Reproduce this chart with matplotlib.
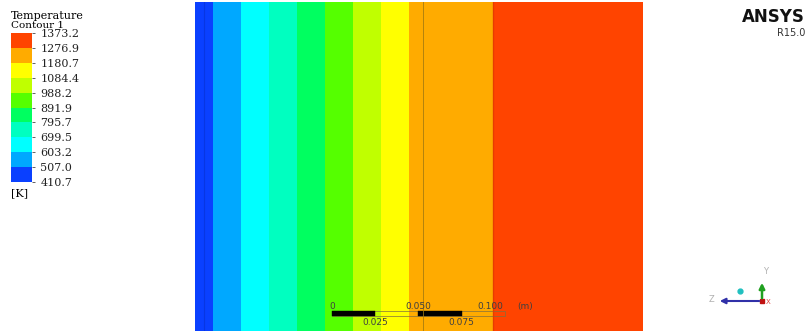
import numpy as np
import matplotlib
matplotlib.use("Agg")
import matplotlib.pyplot as plt
from matplotlib.colors import ListedColormap, BoundaryNorm

# contour levels shown in the legend [K]
levels = [410.7, 507.0, 603.2, 699.5, 795.7, 891.9, 988.2, 1084.4, 1180.7, 1276.9, 1373.2]
band_colors = ["#0a40ff", "#00a8ff", "#00ffff", "#00ffc0", "#00ff60",
               "#55ff00", "#c0ff00", "#ffff00", "#ffab00", "#ff4400"]

# temperature bands across the wall (x in m)
x_edges = [0.0, 0.0104, 0.0266, 0.0428, 0.0590, 0.0751, 0.0913, 0.1075, 0.1237, 0.1723, 0.2590]
band_temp = [458.9, 555.1, 651.4, 747.6, 843.8, 940.1, 1036.3, 1132.6, 1228.8, 1325.1]

W, H = 809, 331
fig = plt.figure(figsize=(W / 100, H / 100), dpi=100)
fig.patch.set_facecolor("white")

cmap = ListedColormap(band_colors)
norm = BoundaryNorm(levels, cmap.N)

# main contour view
ax = fig.add_axes([195 / W, 0, 448 / W, 329 / H])
Z = np.array([band_temp])
mesh = ax.pcolormesh(x_edges, [0, 1], Z, cmap=cmap, norm=norm, shading="flat")
ax.set_xlim(x_edges[0], x_edges[-1])
ax.set_ylim(0, 1)
ax.axis("off")

# thin mesh / interface lines
ax.axvline(0.0052, color="#0830d0", lw=0.8, alpha=0.6)
ax.axvline(0.1318, color="#a07810", lw=0.7, alpha=0.8)
ax.axvline(0.1723, color="#e03a00", lw=1.0, alpha=0.8)

# scale bar (m)
x0 = 0.0792
bar_y, bar_h = 0.045, 0.015
ax.add_patch(plt.Rectangle((x0, bar_y), 0.1, bar_h, fill=False, ec="#807040", lw=0.5))
for s in [0.0, 0.05]:
    ax.add_patch(plt.Rectangle((x0 + s, bar_y), 0.025, bar_h, fc="black", ec="black", lw=0.3))
tk = dict(fontsize=6.5, color="#404040", family="DejaVu Sans", ha="center", va="center")
ax.text(x0, 0.073, "0", **tk)
ax.text(x0 + 0.05, 0.073, "0.050", **tk)
ax.text(x0 + 0.0915, 0.073, "0.100", **tk)
ax.text(x0 + 0.107, 0.073, "(m)", fontsize=6.5, color="#404040", ha="left", va="center")
ax.text(x0 + 0.025, 0.027, "0.025", **tk)
ax.text(x0 + 0.075, 0.027, "0.075", **tk)

# colour legend
cax = fig.add_axes([11 / W, 1 - 182 / H, 21 / W, 149 / H])
cb = fig.colorbar(mesh, cax=cax, ticks=levels)
cb.outline.set_visible(False)
cb.ax.set_yticklabels(["%.1f" % v for v in levels], family="DejaVu Serif", fontsize=8)
cb.ax.tick_params(length=2, width=0.5, pad=4, colors="#222222")
fig.text(11 / W, 1 - 16 / H, "Temperature", family="DejaVu Serif", fontsize=8, va="center")
fig.text(11 / W, 1 - 25 / H, "Contour 1", family="DejaVu Serif", fontsize=7.5, va="center")
fig.text(11 / W, 1 - 193 / H, "[K]", family="DejaVu Serif", fontsize=8, va="center")

# ANSYS logo text
fig.text(805 / W, 1 - 17.5 / H, "ANSYS", fontsize=12, weight="bold", ha="right", va="center",
         family="DejaVu Sans", color="#111111")
fig.text(805 / W, 1 - 32.5 / H, "R15.0", fontsize=7, ha="right", va="center",
         family="DejaVu Sans", color="#333333")

# axis triad (figure pixel coordinates)
tri = fig.add_axes([0, 0, 1, 1], facecolor="none")
tri.set_xlim(0, W)
tri.set_ylim(H, 0)
tri.axis("off")
ox, oy = 762, 301
tri.annotate("", xy=(ox, 280), xytext=(ox, oy),
             arrowprops=dict(arrowstyle="-|>", color="#20a020", lw=1.8, mutation_scale=8))
tri.annotate("", xy=(717, oy), xytext=(ox, oy),
             arrowprops=dict(arrowstyle="-|>", color="#3030a8", lw=1.5, mutation_scale=8))
tri.plot([ox], [oy], "s", color="#c01010", ms=3.5)
tri.plot([740], [291], "o", color="#20c0c0", ms=3.5)
tri.text(766, 271, "Y", fontsize=6, color="#b0b0b0", ha="center", va="center")
tri.text(712, 300, "Z", fontsize=6, color="#b0b0b0", ha="center", va="center")
tri.text(768, 302, "X", fontsize=5, color="#e04040", ha="center", va="center")

fig.savefig("out.png", dpi=100)
